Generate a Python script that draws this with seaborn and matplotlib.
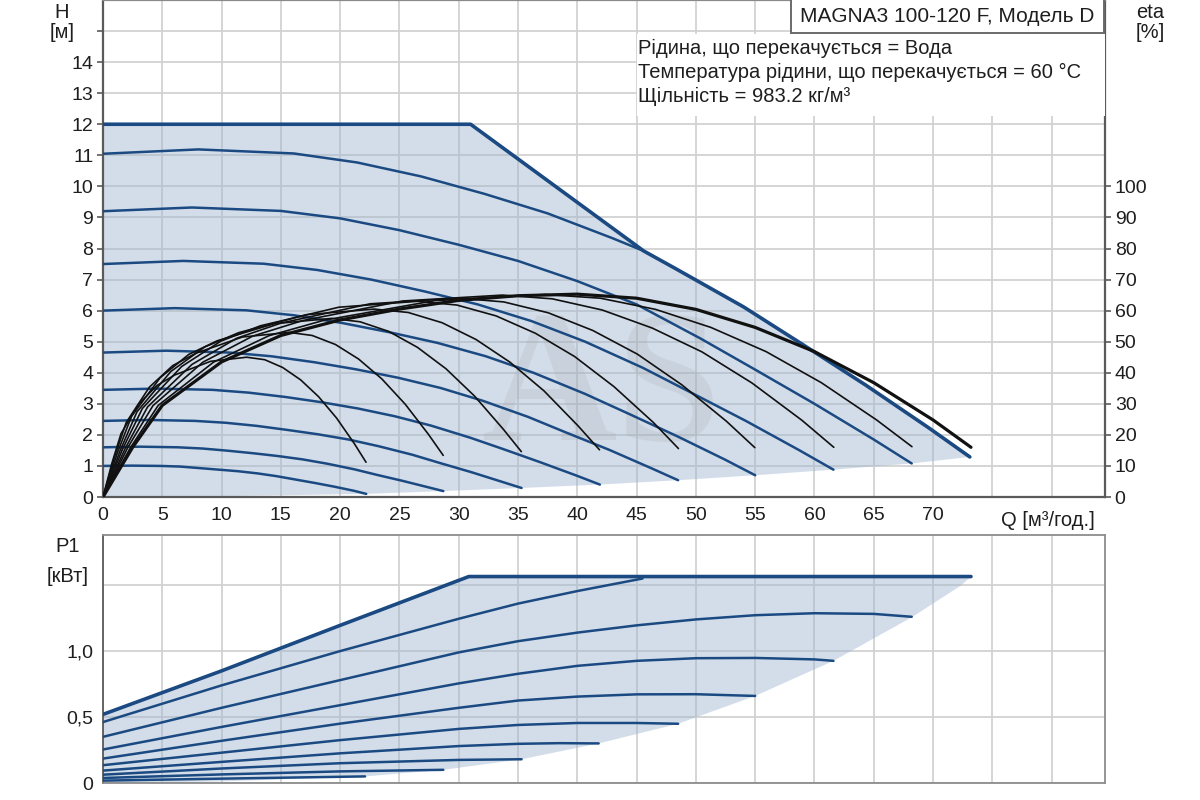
import matplotlib
matplotlib.use("Agg")
import matplotlib.pyplot as plt
from matplotlib.patches import Rectangle
import seaborn as sns

# ---------------------------------------------------------------------------
# Values
# ---------------------------------------------------------------------------

# head curves H [m] over Q [m3/h], lowest speed step first
head_q = [
    [0, 2.44, 4.88, 6.5, 8.15, 9.77, 11.39, 13.03, 14.65, 16.41, 17.89, 19.54, 21.16, 22.2],
    [0, 3.16, 6.31, 8.41, 10.53, 12.63, 14.72, 16.85, 18.94, 21.21, 23.13, 25.26, 27.35, 28.7],
    [0, 3.88, 7.77, 10.34, 12.96, 15.53, 18.11, 20.72, 23.3, 26.09, 28.45, 31.06, 33.64, 35.3],
    [0, 4.61, 9.22, 12.28, 15.38, 18.44, 21.49, 24.6, 27.65, 30.96, 33.77, 36.87, 39.93, 41.9],
    [0, 5.34, 10.67, 14.21, 17.8, 21.34, 24.88, 28.47, 32.01, 35.84, 39.09, 42.68, 46.22, 48.5],
    [0, 6.05, 12.1, 16.12, 20.19, 24.2, 28.22, 32.29, 36.3, 40.65, 44.33, 48.4, 52.42, 55.0],
    [0, 6.78, 13.55, 18.05, 22.61, 27.1, 31.6, 36.16, 40.66, 45.52, 49.65, 54.21, 58.7, 61.6],
    [0, 7.5, 15, 20, 25, 30, 35, 40, 45, 50.4, 55, 60, 65, 68.2],
    [0, 8.04, 16.08, 21.42, 26.83, 32.16, 37.5, 42.91, 45.6],
]
head_h = [
    [1.0, 1.01, 1.0, 0.98, 0.93, 0.88, 0.83, 0.76, 0.67, 0.55, 0.45, 0.33, 0.2, 0.1],
    [1.6, 1.62, 1.6, 1.56, 1.49, 1.41, 1.32, 1.21, 1.07, 0.89, 0.71, 0.52, 0.32, 0.19],
    [2.45, 2.48, 2.45, 2.39, 2.29, 2.16, 2.02, 1.85, 1.63, 1.36, 1.09, 0.8, 0.49, 0.29],
    [3.45, 3.49, 3.45, 3.36, 3.22, 3.05, 2.85, 2.6, 2.3, 1.91, 1.54, 1.12, 0.69, 0.4],
    [4.65, 4.71, 4.65, 4.53, 4.34, 4.11, 3.84, 3.51, 3.1, 2.58, 2.07, 1.52, 0.93, 0.54],
    [6.0, 6.08, 6.01, 5.85, 5.6, 5.3, 4.96, 4.53, 4.0, 3.32, 2.68, 1.96, 1.21, 0.7],
    [7.5, 7.6, 7.51, 7.31, 7.0, 6.62, 6.2, 5.66, 5.0, 4.16, 3.35, 2.45, 1.51, 0.88],
    [9.2, 9.32, 9.21, 8.97, 8.59, 8.12, 7.6, 6.95, 6.2, 5.1, 4.1, 3.0, 1.85, 1.08],
    [11.05, 11.19, 11.06, 10.77, 10.32, 9.76, 9.13, 8.34, 7.92],
]

# outer limit of the head area and its lower edge
head_max_q = [0, 31, 45.6, 48.25, 54.02, 58.92, 64.33, 69.66, 73.1]
head_max_h = [12, 12, 7.92, 7.36, 6.12, 4.93, 3.6, 2.22, 1.29]
head_min_q = [0, 11, 22.2, 28.7, 35.3, 41.9, 48.5, 55, 61.6, 68.2, 73.1]
head_min_h = [0, 0.03, 0.1, 0.19, 0.29, 0.4, 0.54, 0.7, 0.88, 1.08, 1.29]

# efficiency curves eta [%] over Q [m3/h], same speed steps
eta_q = [
    [0, 0.76, 1.52, 3.03, 4.55, 6.06, 9.09, 12.12, 13.64, 15.15, 16.67, 18.18, 19.7, 21.21, 22.18],
    [0, 0.98, 1.96, 3.92, 5.88, 7.84, 11.76, 15.68, 17.64, 19.6, 21.56, 23.52, 25.48, 27.44, 28.69],
    [0, 1.2, 2.41, 4.82, 7.23, 9.64, 14.46, 19.28, 21.69, 24.1, 26.51, 28.92, 31.33, 33.74, 35.28],
    [0, 1.43, 2.86, 5.72, 8.58, 11.44, 17.16, 22.88, 25.74, 28.6, 31.46, 34.32, 37.18, 40.04, 41.87],
    [0, 1.66, 3.32, 6.63, 9.95, 13.26, 19.89, 26.52, 29.84, 33.15, 36.47, 39.78, 43.1, 46.41, 48.53],
    [0, 1.88, 3.76, 7.51, 11.27, 15.02, 22.53, 30.04, 33.8, 37.55, 41.31, 45.06, 48.82, 52.57, 54.97],
    [0, 2.1, 4.21, 8.42, 12.63, 16.84, 25.26, 33.68, 37.89, 42.1, 46.31, 50.52, 54.73, 58.94, 61.63],
    [0, 2.33, 4.66, 9.32, 13.98, 18.64, 27.96, 37.28, 41.94, 46.6, 51.26, 55.92, 60.58, 65.24, 68.22],
    [0, 2.5, 5, 10, 15, 20, 25, 30, 35, 40, 45, 50, 55, 60, 65, 70, 73.2],
]
eta_v = [
    [0, 11.0, 20.4, 30.0, 35.9, 39.3, 43.7, 45.0, 44.2, 41.7, 37.7, 32.3, 25.4, 17.1, 11.2],
    [0, 13.0, 24.0, 35.4, 42.3, 46.3, 51.5, 53.0, 52.0, 49.1, 44.4, 38.0, 29.9, 20.2, 13.4],
    [0, 14.1, 26.0, 38.4, 45.9, 50.3, 55.8, 57.5, 56.4, 53.3, 48.2, 41.3, 32.5, 21.9, 14.6],
    [0, 14.8, 27.4, 40.4, 48.3, 52.9, 58.7, 60.5, 59.4, 56.1, 50.7, 43.4, 34.2, 23.0, 15.2],
    [0, 15.5, 28.5, 42.0, 50.2, 55.1, 61.1, 63.0, 61.8, 58.3, 52.7, 45.2, 35.5, 24.0, 15.6],
    [0, 15.7, 29.0, 42.7, 51.1, 56.0, 62.2, 64.0, 62.8, 59.3, 53.6, 46.0, 36.1, 24.4, 15.9],
    [0, 16.0, 29.4, 43.4, 51.8, 56.8, 63.1, 65.0, 63.8, 60.2, 54.4, 46.7, 36.7, 24.7, 16.0],
    [0, 16.0, 29.5, 43.4, 51.9, 56.9, 63.2, 65.2, 64.0, 60.4, 54.6, 46.8, 36.8, 24.8, 16.2],
    [0, 16.0, 29.5, 43.5, 52.0, 57.0, 60.5, 63.3, 64.8, 65.3, 64.0, 60.4, 54.6, 46.8, 36.8, 24.8, 16.0],
]

# power consumption P1 [kW] over Q [m3/h]
power_q = [
    [0, 10, 22.1],
    [0, 10, 20, 28.7],
    [0, 10, 20, 30, 35.3],
    [0, 10, 20, 30, 35, 38.5, 41.8],
    [0, 10, 20, 30, 35, 40, 45, 48.5],
    [0, 10, 20, 30, 35, 40, 45, 50, 55],
    [0, 10, 20, 30, 35, 40, 45, 50, 55, 60, 61.6],
    [0, 10, 20, 30, 35, 40, 45, 50, 55, 60, 65, 68.2],
    [0, 10, 20, 30, 35, 40, 45.5],
]
power_p = [
    [0.018, 0.033, 0.05],
    [0.038, 0.065, 0.088, 0.1],
    [0.063, 0.11, 0.15, 0.175, 0.18],
    [0.094, 0.16, 0.225, 0.28, 0.297, 0.302, 0.3],
    [0.135, 0.23, 0.325, 0.41, 0.44, 0.455, 0.455, 0.449],
    [0.185, 0.32, 0.45, 0.57, 0.625, 0.655, 0.672, 0.673, 0.66],
    [0.254, 0.425, 0.59, 0.755, 0.828, 0.888, 0.926, 0.946, 0.948, 0.937, 0.926],
    [0.35, 0.57, 0.78, 0.99, 1.075, 1.14, 1.195, 1.24, 1.272, 1.287, 1.282, 1.26],
    [0.462, 0.74, 1.0, 1.245, 1.36, 1.455, 1.55],
]
power_max_q = [0, 10, 20, 30.85, 73.2]
power_max_p = [0.52, 0.85, 1.195, 1.565, 1.565]
power_min_q = [0, 10, 22.1, 28.7, 35.3, 41.8, 48.5, 55, 61.6, 68.2, 72.4, 73.2]
power_min_p = [0, 0.012, 0.05, 0.1, 0.18, 0.3, 0.449, 0.66, 0.926, 1.256, 1.5, 1.565]

# axis ticks and texts
q_ticks = list(range(0, 85, 5))
q_labels = [str(t) if t <= 70 else "" for t in q_ticks]
h_ticks = list(range(0, 16))
h_labels = [str(t) if t <= 14 else "" for t in h_ticks]
eta_ticks = list(range(0, 110, 10))
p_ticks = [0, 0.5, 1.0, 1.5]
p_labels = ["0", "0,5", "1,0", ""]

pump_title = "MAGNA3 100-120 F, Модель D"
info_lines = [
    "Рідина, що перекачується = Вода",
    "Температура рідини, що перекачується = 60 °C",
    "Щільність = 983.2 кг/м³",
]

BLUE = "#1b4a82"
FILL = "#9fb5cf"
GRID = "#d2d2d2"
SPINE = "#5a5a5a"
TEXT = "#1e1e1e"
TICK_SIZE = 14
TEXT_SIZE = 14.5


def style_axis(ax, spine_color, spine_width):
    for side in ("left", "right", "top", "bottom"):
        ax.spines[side].set_color(spine_color)
        ax.spines[side].set_linewidth(spine_width)
    ax.grid(True, color=GRID, linewidth=1.3)
    ax.set_axisbelow(True)
    ax.tick_params(colors=SPINE, labelcolor=TEXT, labelsize=TICK_SIZE, length=4, width=1.2, pad=3)


def draw_head_panel(fig):
    ax = fig.add_axes([103 / 1200, 1 - 497 / 800, 1002 / 1200, 497 / 800])
    ax.set_facecolor("white")
    style_axis(ax, SPINE, 1.6)
    ax.spines["top"].set_color("#8a8a8a")

    area_q = head_max_q + head_min_q[::-1]
    area_h = head_max_h + head_min_h[::-1]
    ax.fill(area_q, area_h, color=FILL, alpha=0.45, linewidth=0, zorder=1)

    # faint watermark of the source sheet
    ax.text(42, 3.3, "AS", fontsize=135, family="Liberation Serif", weight="bold",
            color="#9a9a9a", alpha=0.16, ha="center", va="center", zorder=1.5)

    for q, h in zip(head_q, head_h):
        sns.lineplot(x=q, y=h, ax=ax, color=BLUE, linewidth=1.8, sort=False, estimator=None, zorder=3)
    sns.lineplot(x=head_max_q, y=head_max_h, ax=ax, color=BLUE, linewidth=2.6,
                 sort=False, estimator=None, zorder=3)

    ax.set_xlim(0, 84.5)
    ax.set_ylim(0, 16)
    ax.set_xticks(q_ticks)
    ax.set_xticklabels(q_labels)
    ax.set_yticks(h_ticks)
    ax.set_yticklabels(h_labels)
    ax.set_xlabel("")
    ax.set_ylabel("")

    # info block covering the grid
    ax.add_patch(Rectangle((45.0, 12.25), 39.5, 2.65, facecolor="white", edgecolor="none", zorder=4))
    for i, line in enumerate(info_lines):
        ax.text(45.1, 14.45 - i * 0.78, line, fontsize=TEXT_SIZE, color=TEXT,
                ha="left", va="center", zorder=5)
    ax.add_patch(Rectangle((58.0, 14.93), 26.4, 1.2, facecolor="white", edgecolor="#6a6a6a",
                           linewidth=1.4, zorder=4, clip_on=False))
    ax.text(71.2, 15.47, pump_title, fontsize=TEXT_SIZE + 0.5, color=TEXT,
            ha="center", va="center", zorder=5)

    ax_eta = ax.twinx()
    for q, v in zip(eta_q[:-1], eta_v[:-1]):
        sns.lineplot(x=q, y=v, ax=ax_eta, color="#111111", linewidth=1.2, sort=False, estimator=None)
    sns.lineplot(x=eta_q[-1], y=eta_v[-1], ax=ax_eta, color="#111111", linewidth=2.3,
                 sort=False, estimator=None)
    ax_eta.set_ylim(0, 160)
    ax_eta.set_yticks(eta_ticks)
    ax_eta.grid(False)
    ax_eta.set_ylabel("")
    for side in ("left", "right", "top", "bottom"):
        ax_eta.spines[side].set_visible(False)
    ax_eta.tick_params(axis="y", colors=SPINE, labelcolor=TEXT, labelsize=TICK_SIZE,
                       length=4, width=1.2, pad=3)
    return ax


def draw_power_panel(fig):
    ax = fig.add_axes([103 / 1200, 1 - 783 / 800, 1002 / 1200, 248 / 800])
    ax.set_facecolor("white")
    style_axis(ax, "#8c8c8c", 1.3)
    ax.spines["left"].set_color(SPINE)

    area_q = power_max_q + power_min_q[::-1]
    area_p = power_max_p + power_min_p[::-1]
    ax.fill(area_q, area_p, color=FILL, alpha=0.45, linewidth=0, zorder=1)

    for q, p in zip(power_q, power_p):
        sns.lineplot(x=q, y=p, ax=ax, color=BLUE, linewidth=1.8, sort=False, estimator=None, zorder=3)
    sns.lineplot(x=power_max_q, y=power_max_p, ax=ax, color=BLUE, linewidth=2.6,
                 sort=False, estimator=None, zorder=3)

    ax.set_xlim(0, 84.5)
    ax.set_ylim(0, 1.88)
    ax.set_xticks(q_ticks)
    ax.tick_params(axis="x", length=0, labelbottom=False)
    ax.set_yticks(p_ticks)
    ax.set_yticklabels(p_labels)
    ax.set_xlabel("")
    ax.set_ylabel("")
    return ax


def main():
    sns.set_theme(style="white")
    plt.rcParams["font.family"] = ["Liberation Sans", "DejaVu Sans"]

    fig = plt.figure(figsize=(12, 8), dpi=100, facecolor="white")
    draw_head_panel(fig)
    draw_power_panel(fig)

    labels = [
        (62, 12, "H"), (62, 32, "[м]"),
        (1150, 12, "eta"), (1150, 32, "[%]"),
        (1048, 520, "Q [м³/год.]"),
        (68, 546, "P1"), (68, 576, "[кВт]"),
    ]
    for x_px, y_px, txt in labels:
        fig.text(x_px / 1200, 1 - y_px / 800, txt, fontsize=TEXT_SIZE, color=TEXT,
                 ha="center", va="center")

    fig.savefig("out.png", dpi=100, facecolor="white")
    plt.close(fig)


if __name__ == "__main__":
    main()
